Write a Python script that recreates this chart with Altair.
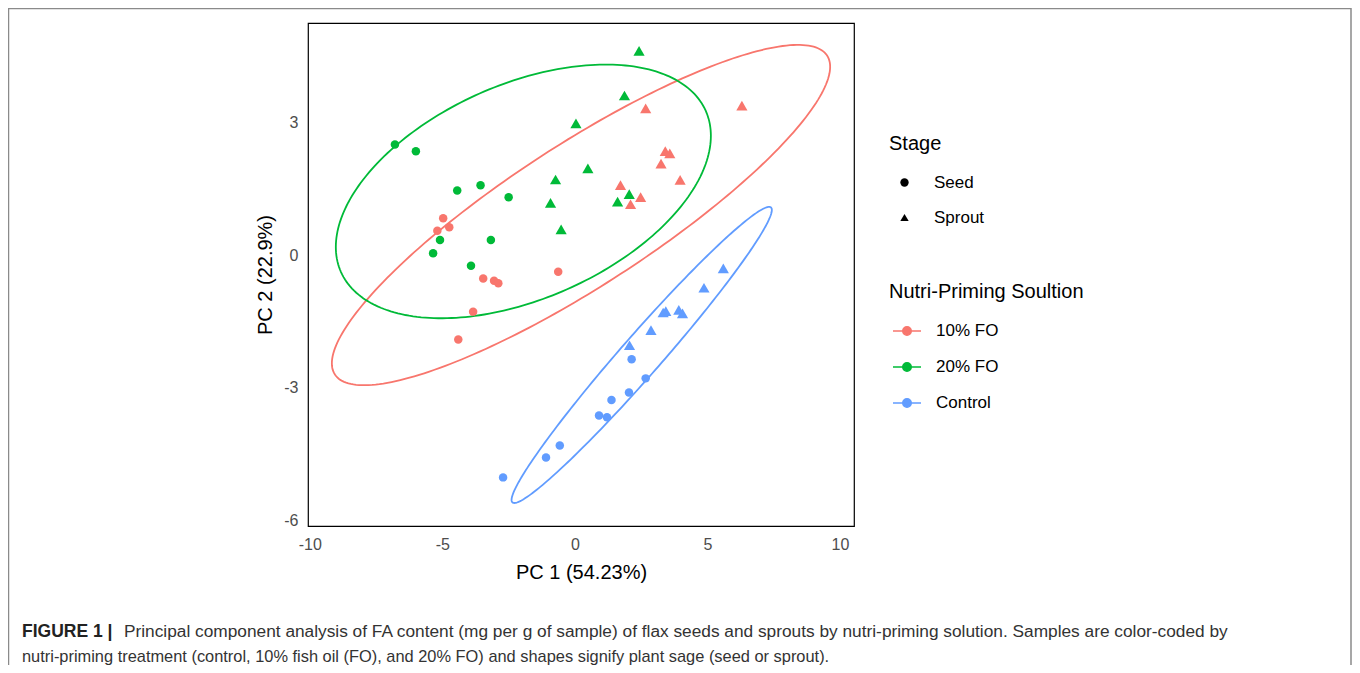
import altair as alt
import numpy as np
import pandas as pd

# ---------------- data ----------------
pc1 = [
    # 10% FO seeds
    -4.97, -5.19, -4.74, -3.46, -3.05, -2.89, -0.63, -3.84, -4.40,
    # 10% FO sprouts
    2.67, 6.30, 3.41, 3.58, 3.25, 3.97, 1.72, 2.48, 2.10,
    # 20% FO seeds
    -6.79, -6.00, -4.44, -3.56, -2.50, -5.09, -3.17, -5.35, -3.92,
    # 20% FO sprouts
    0.04, -0.73, -0.92, -0.52, 2.42, 1.87, 0.49, 2.05, 1.61,
    # Control seeds
    2.14, 2.67, 2.04, 1.38, 0.91, 1.21, -0.57, -1.09, -2.71,
    # Control sprouts
    5.60, 4.87, 3.43, 3.33, 3.92, 4.06, 2.87, 2.06,
]
pc2 = [
    0.83, 0.55, 0.63, -0.53, -0.58, -0.64, -0.38, -1.28, -1.91,
    3.32, 3.38, 2.35, 2.30, 2.07, 1.70, 1.58, 1.31, 1.15,
    2.50, 2.35, 1.46, 1.58, 1.31, 0.34, 0.34, 0.04, -0.24,
    2.98, 1.71, 1.18, 0.58, 4.62, 3.61, 1.96, 1.38, 1.21,
    -2.36, -2.79, -3.11, -3.28, -3.63, -3.67, -4.31, -4.58, -5.03,
    -0.30, -0.74, -1.27, -1.30, -1.24, -1.32, -1.70, -2.04,
]
group = (["10% FO"] * 18) + (["20% FO"] * 18) + (["Control"] * 17)
stage = (["Seed"] * 9 + ["Sprout"] * 9) + (["Seed"] * 9 + ["Sprout"] * 9) + (["Seed"] * 9 + ["Sprout"] * 8)

groups = ["10% FO", "20% FO", "Control"]
group_colors = ["#F8766D", "#00BA38", "#619CFF"]
stages = ["Seed", "Sprout"]
stage_shapes = ["circle", "triangle-up"]

# confidence ellipses (center, half extents, phase)
ell_cx = [0.23, -1.945, 2.52]
ell_cy = [0.905, 1.44, -2.26]
ell_rx = [9.40, 7.075, 4.91]
ell_ry = [3.85, 2.87, 3.35]
ell_phase = [29.4, 64.0, 11.8]

x_ticks = [-10, -5, 0, 5, 10]
y_ticks = [-6, -3, 0, 3]

caption_bold = "FIGURE 1 |"
caption_line1 = ("Principal component analysis of FA content (mg per g of sample) of flax seeds and "
                 "sprouts by nutri-priming solution. Samples are color-coded by")
caption_line2 = ("nutri-priming treatment (control, 10% fish oil (FO), and 20% FO) and shapes signify "
                 "plant sage (seed or sprout).")

# ---------------- tables ----------------
pts = pd.DataFrame({"PC1": pc1, "PC2": pc2, "group": group, "stage": stage})

rows = []
t = np.linspace(0, 2 * np.pi, 241)
for g, cx, cy, rx, ry, ph in zip(groups, ell_cx, ell_cy, ell_rx, ell_ry, ell_phase):
    for i, tt in enumerate(t):
        rows.append({"group": g, "i": i,
                     "PC1": cx + rx * np.cos(tt),
                     "PC2": cy + ry * np.cos(tt + np.radians(ph))})
ell = pd.DataFrame(rows)

FONT = "Liberation Sans"

xscale = alt.Scale(domain=[-10.07, 10.53], nice=False, zero=False)
yscale = alt.Scale(domain=[-6.13, 5.25], nice=False, zero=False)
cscale = alt.Scale(domain=groups, range=group_colors)
sscale = alt.Scale(domain=stages, range=stage_shapes)

xaxis = alt.Axis(values=x_ticks, title="PC 1 (54.23%)", grid=False, ticks=False, domain=False,
                 labelExpr="datum.value + ''",
                 labelFontSize=16, labelColor="#4d4d4d", labelPadding=10, labelFont=FONT,
                 titleFontSize=20, titleFont=FONT, titleFontWeight="normal", titleColor="black",
                 titlePadding=10)
yaxis = alt.Axis(values=y_ticks, title="PC 2 (22.9%)", grid=False, ticks=False, domain=False,
                 labelExpr="datum.value + ''",
                 labelFontSize=16, labelColor="#4d4d4d", labelPadding=10, labelFont=FONT,
                 titleFontSize=20, titleFont=FONT, titleFontWeight="normal", titleColor="black",
                 titlePadding=8)

legend_path = "M-1,0L1,0M-0.3,0A0.3,0.3 0 1,0 0.3,0A0.3,0.3 0 1,0 -0.3,0Z"
color_legend = alt.Legend(
    title="Nutri-Priming Soultion", orient="none", legendX=581, legendY=259,
    titleFontSize=20, titleFont=FONT, titleFontWeight="normal", titleColor="black", titleLimit=500,
    labelFontSize=17, labelFont=FONT, labelColor="black",
    symbolType=legend_path, symbolSize=784, symbolStrokeWidth=1.6, symbolOpacity=1,
    symbolOffset=3, labelOffset=14, rowPadding=13, titlePadding=14, padding=0,
)
shape_legend = alt.Legend(
    title="Stage", orient="none", legendX=581, legendY=111,
    titleFontSize=20, titleFont=FONT, titleFontWeight="normal", titleColor="black",
    labelFontSize=17, labelFont=FONT, labelColor="black",
    symbolSize=70, symbolOffset=7, labelOffset=21, rowPadding=17, titlePadding=20, padding=0,
    symbolFillColor="black", symbolStrokeColor="black", symbolStrokeWidth=0, symbolOpacity=1,
)

ellipses = alt.Chart(ell).mark_line(strokeWidth=1.8, clip=True).encode(
    x=alt.X("PC1:Q", scale=xscale, axis=xaxis),
    y=alt.Y("PC2:Q", scale=yscale, axis=yaxis),
    stroke=alt.Stroke("group:N", scale=cscale, legend=color_legend),
    order=alt.Order("i:Q"),
    detail="group:N",
)

point_enc = dict(
    x=alt.X("PC1:Q", scale=xscale, axis=xaxis),
    y=alt.Y("PC2:Q", scale=yscale, axis=yaxis),
    fill=alt.Fill("group:N", scale=cscale, legend=color_legend),
    stroke=alt.Stroke("group:N", scale=cscale, legend=color_legend),
    shape=alt.Shape("stage:N", scale=sscale, legend=shape_legend),
)
seeds = alt.Chart(pts).transform_filter(alt.datum.stage == "Seed").mark_point(
    filled=True, opacity=1, strokeWidth=0, size=72).encode(**point_enc)
sprouts = alt.Chart(pts).transform_filter(alt.datum.stage == "Sprout").mark_point(
    filled=True, opacity=1, strokeWidth=0, size=125).encode(**point_enc)

cap = pd.DataFrame({"bold": [caption_bold], "l1": [caption_line1], "l2": [caption_line2]})
cap_bold = alt.Chart(cap).mark_text(align="left", baseline="middle", fontSize=17.5, font=FONT,
                                     fontWeight="bold", color="#222").encode(
    text="bold:N", x=alt.value(-286), y=alt.value(609))
cap_l1 = alt.Chart(cap).mark_text(align="left", baseline="middle", fontSize=17.3, font=FONT,
                                   color="#333").encode(
    text="l1:N", x=alt.value(-184), y=alt.value(609))
cap_l2 = alt.Chart(cap).mark_text(align="left", baseline="middle", fontSize=16.4, font=FONT,
                                   color="#333").encode(
    text="l2:N", x=alt.value(-286), y=alt.value(634))

frame = alt.Chart(pd.DataFrame({"a": [0]})).mark_rect(fill=None, stroke="#8a8a8a", strokeWidth=1.5).encode(
    x=alt.value(-299.5), x2=alt.value(1043), y=alt.value(-14.5), y2=alt.value(680))

chart = alt.layer(frame, ellipses, seeds, sprouts, cap_bold, cap_l1, cap_l2).properties(
    width=546, height=503,
    autosize=alt.AutoSizeParams(type="none"),
    padding={"left": 300, "top": 15, "right": 498, "bottom": 139},
).configure(font=FONT).configure_view(stroke="black", strokeWidth=1.2)

chart.save("out.html", embed_options={"renderer": "svg", "actions": False})
